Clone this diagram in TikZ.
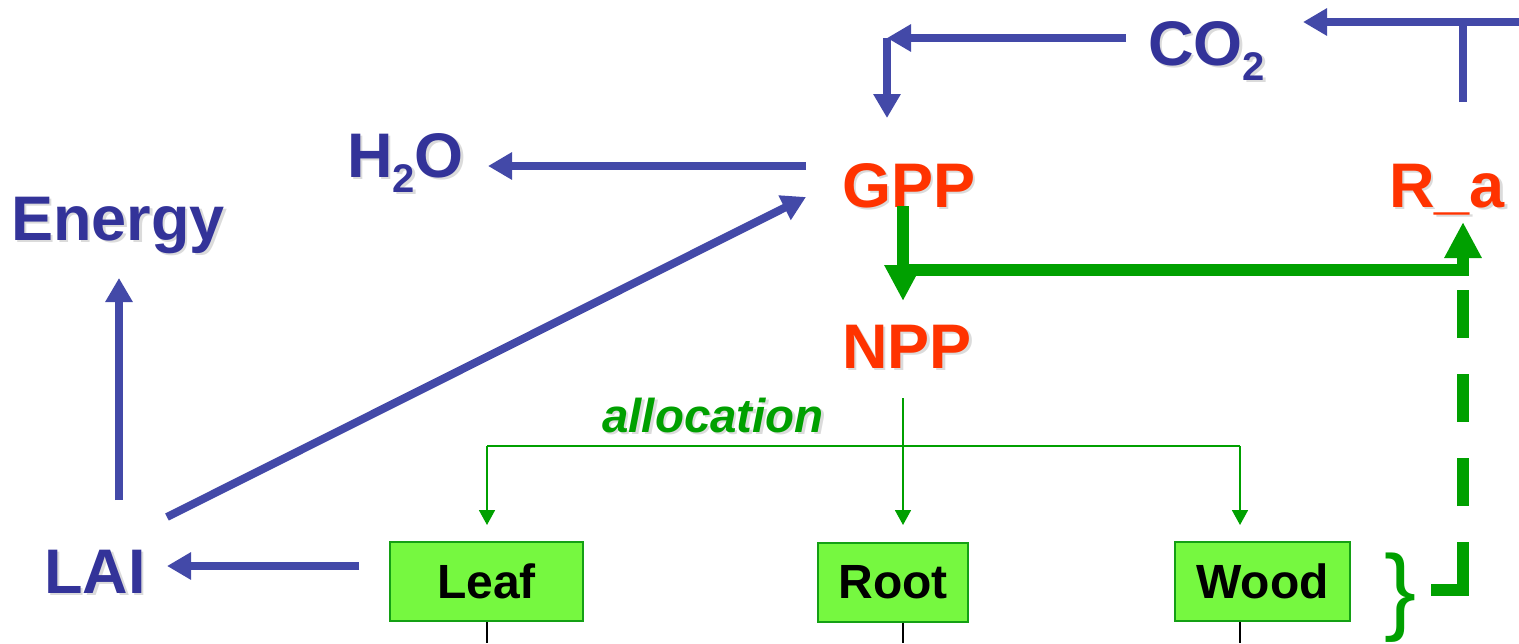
\documentclass[tikz,border=0pt]{standalone}
\usepackage{fontspec}
\setmainfont{Liberation Sans}
\usetikzlibrary{arrows.meta}

\definecolor{txtblue}{RGB}{51,51,153}
\definecolor{arrblue}{RGB}{67,73,168}
\definecolor{txtred}{RGB}{255,51,0}
\definecolor{grn}{RGB}{0,160,0}
\definecolor{boxfill}{RGB}{118,248,64}
\definecolor{boxedge}{RGB}{20,160,20}

% text with a soft grey drop shadow
\newcommand\shtext[1]{\rlap{\kern2.5pt\raisebox{-2.5pt}{\color{black!14}#1}}#1}
% lowered subscript digit
\newcommand\subtwo[1]{\raisebox{-15pt}{\fontsize{#1}{#1}\selectfont 2}}

\begin{document}
\begin{tikzpicture}[x=1pt,y=-1pt,
  lbl/.style={inner sep=0pt, anchor=base west, font=\bfseries\fontsize{63}{63}\selectfont},
  bluetxt/.style={lbl, text=txtblue},
  redtxt/.style={lbl, text=txtred},
  barrow/.style={draw=arrblue, line width=8pt, -{Triangle[length=24pt,width=26pt]}},
  bline/.style={draw=arrblue, line width=8pt},
  garrow/.style={draw=grn, line width=12pt, line join=miter, -{Triangle[length=36pt,width=35pt]}},
  gdash/.style={draw=grn, line width=12pt, line join=miter,
                dash pattern=on 80pt off 36pt on 48pt off 36pt on 48pt off 36pt on 48pt},
  thinarrow/.style={draw=grn, line width=1.8pt, -{Triangle[length=15pt,width=16pt]}},
  thinline/.style={draw=grn, line width=1.8pt},
  part/.style={draw=boxedge, fill=boxfill, line width=2pt, inner sep=0pt,
               minimum height=79pt, font=\bfseries\fontsize{48}{48}\selectfont, text=black},
  stem/.style={draw=black, line width=1.5pt}
]
\useasboundingbox (0,0) rectangle (1519,643);

% ---- labels ----
\node[bluetxt] (co2)    at (1148,65)  {\shtext{CO\subtwo{40}}};
\node[bluetxt] (h2o)    at (347,177)  {\shtext{H\subtwo{40}O}};
\node[redtxt]  (gpp)    at (842,207)  {\shtext{GPP}};
\node[redtxt]  (ra)     at (1389,207) {\shtext{R\_a}};
\node[bluetxt] (energy) at (11,240)   {\shtext{Energy}};
\node[redtxt]  (npp)    at (842,368)  {\shtext{NPP}};
\node[bluetxt] (lai)    at (44,593)   {\shtext{LAI}};
\node[inner sep=0pt, anchor=base west, text=grn,
      font=\bfseries\itshape\fontsize{47.5}{47.5}\selectfont] (alloc) at (602,432) {\shtext{allocation}};

% ---- pools ----
\node[part, minimum width=193pt] (leaf) at (486.5,581.5) {Leaf};
\node[part, minimum width=150pt] (root) at (893,582)     {Root};
\node[part, minimum width=175pt] (wood) at (1262.5,581.5) {Wood};
\node[inner sep=0pt, text=grn, font=\fontsize{96}{96}\selectfont] (brace) at (1401,598) {\}};

% ---- connector end points ----
\coordinate (co2out)   at (1126,38);
\coordinate (corner)   at (887,38);
\coordinate (gppin)    at (887,118);
\coordinate (raup)     at (1463,102);
\coordinate (tjoin)    at (1463,22);
\coordinate (edge)     at (1519,22);
\coordinate (co2in)    at (1303,22);
\coordinate (gppleft)  at (806,166);
\coordinate (h2oin)    at (488,166);
\coordinate (laiup)    at (119,500);
\coordinate (energyin) at (119,278);
\coordinate (laiout)   at (167,517);
\coordinate (gppin2)   at (806,197);
\coordinate (leafout)  at (359,566);
\coordinate (laiin)    at (167,566);
\coordinate (gppdown)  at (903,206);
\coordinate (nppin)    at (903,301);
\coordinate (split)    at (897,270);
\coordinate (rabend)   at (1463,270);
\coordinate (rain)     at (1463,222);
\coordinate (poolsout) at (1431,590);
\coordinate (poolbend) at (1463,590);
\coordinate (poolsup)  at (1463,290);
\coordinate (nppout)   at (903,398);
\coordinate (tipy)     at (0,525);

% ---- carbon / water / energy links ----
\draw[barrow] (co2out) -- (corner);
\draw[barrow] (corner) -- (gppin);
\draw[bline]  (raup) -- (tjoin);
\draw[barrow] (edge) -- (co2in);
\draw[barrow] (gppleft) -- (h2oin);
\draw[barrow] (laiup) -- (energyin);
\draw[barrow] (laiout) -- (gppin2);
\draw[barrow] (leafout) -- (laiin);

% ---- GPP partitioning ----
\draw[garrow] (gppdown) -- (nppin);
\draw[garrow] (split) -- (rabend) -- (rain);
\draw[gdash]  (poolsout) -- (poolbend) -- (poolsup);

% ---- allocation tree ----
\draw[thinline]  (487,446) -- (1240,446);
\draw[thinarrow] (nppout) -- (nppout |- tipy);
\draw[thinarrow] (487,446) -- (487,525);
\draw[thinarrow] (1240,446) -- (1240,525);

% ---- stems below pools ----
\draw[stem] (487,0 |- leaf.south) -- (487,643);
\draw[stem] (903,0 |- root.south) -- (903,643);
\draw[stem] (1240,0 |- wood.south) -- (1240,643);
\end{tikzpicture}
\end{document}
